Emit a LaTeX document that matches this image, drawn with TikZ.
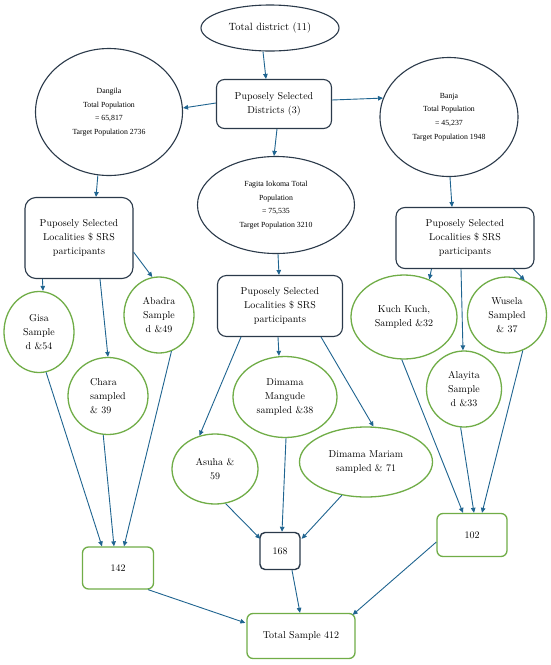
\documentclass[tikz,border=0pt]{standalone}
\usepackage{fontspec}
\newfontfamily\popfont{Liberation Serif}
\usetikzlibrary{shapes.geometric,arrows.meta,calc}
\definecolor{darkb}{HTML}{2B3A4A}
\definecolor{arrc}{HTML}{1F6490}
\definecolor{grn}{HTML}{70AD47}
\tikzset{
  darkell/.style={ellipse,draw=darkb,line width=1.1pt,inner sep=0pt,align=center},
  popell/.style={darkell,font=\popfont\fontsize{7.8}{13.7}\selectfont},
  darkbox/.style={rectangle,rounded corners=9pt,draw=darkb,line width=1.1pt,inner sep=0pt,align=center,font=\fontsize{10}{14}\selectfont},
  grnell/.style={ellipse,draw=grn,line width=1.3pt,inner sep=0pt,align=center,font=\fontsize{10}{14}\selectfont},
  grnbox/.style={rectangle,rounded corners=6pt,draw=grn,line width=1.3pt,inner sep=0pt,align=center,font=\fontsize{10}{14}\selectfont},
  arr/.style={draw=arrc,line width=0.9pt,-{Triangle[length=5pt,width=4.5pt]}}
}
\begin{document}
\begin{tikzpicture}[x=1pt,y=-1pt]
\useasboundingbox[fill=white] (0,0) rectangle (550,665);
% top
\node[darkell,minimum width=138,minimum height=46,font=\fontsize{10.5}{13}\selectfont] (TD) at (270,28) {Total district (11)};
\node[darkbox,minimum width=115,minimum height=49,rounded corners=8pt] (PD) at (274,104) {Puposely Selected\\Districts (3)};
\node[popell,minimum width=147,minimum height=127] (DG) at (109,112) {Dangila\\Total Population\\= 65,817\\Target Population 2736};
\node[popell,minimum width=138,minimum height=119] (BJ) at (449,117) {Banja\\Total Population\\= 45,237\\Target Population 1948};
\node[popell,minimum width=157,minimum height=97] (FG) at (276,205) {Fagita Iokoma Total\\Population\\= 75,535\\Target Population 3210};
% locality boxes
\node[darkbox,minimum width=108,minimum height=81,rounded corners=11pt] (L1) at (79,238) {Puposely Selected\\Localities \$ SRS\\participants};
\node[darkbox,minimum width=125,minimum height=61] (L2) at (280,306) {Puposely Selected\\Localities \$ SRS\\participants};
\node[darkbox,minimum width=138,minimum height=61] (L3) at (465,238) {Puposely Selected\\Localities \$ SRS\\participants};
% green ellipses
\node[grnell,minimum width=70,minimum height=81] (Gisa) at (39,332) {Gisa\\Sample\\d \&54};
\node[grnell,minimum width=70,minimum height=76] (Abadra) at (159,315) {Abadra\\Sample\\d \&49};
\node[grnell,minimum width=80,minimum height=77,align=left] (Chara) at (108,396) {Chara\\sampled\\\& 39};
\node[grnell,minimum width=106,minimum height=84] (Kuch) at (404,317) {Kuch Kuch,\\Sampled \&32};
\node[grnell,minimum width=79,minimum height=76] (Wusela) at (507,315) {Wusela\\Sampled\\\& 37};
\node[grnell,minimum width=75,minimum height=76] (Alayita) at (464,389) {Alayita\\Sample\\d \&33};
\node[grnell,minimum width=104,minimum height=81] (Mangude) at (285,397) {Dimama\\Mangude\\sampled \&38};
\node[grnell,minimum width=86,minimum height=70] (Asuha) at (215,469) {Asuha \&\\59};
\node[grnell,minimum width=133,minimum height=70] (Mariam) at (366,462) {Dimama Mariam\\sampled \& 71};
% totals
\node[grnbox,minimum width=71,minimum height=42] (B142) at (118,568) {142};
\node[darkbox,minimum width=40,minimum height=37,rounded corners=5pt,line width=1.4pt] (B168) at (280,551) {168};
\node[grnbox,minimum width=70,minimum height=43] (B102) at (472,535) {102};
\node[grnbox,minimum width=108,minimum height=45] (Total) at (301,636) {Total Sample 412};
% arrows
\draw[arr] ($(TD.south)+(-7,0)$) -- ($(PD.north)+(-8,0)$);
\draw[arr] ($(PD.west)+(0,-1)$) -- ($(DG.east)+(0,-4)$);
\draw[arr] ($(PD.east)+(0,-4)$) -- (BJ.164);
\draw[arr] ($(PD.south)+(3,0)$) -- ($(FG.north)+(-2,0)$);
\draw[arr] (DG.260) -- ($(L1.north)+(17,0)$);
\draw[arr] ($(BJ.south)+(1,0)$) -- ($(L3.north)+(-13,0)$);
\draw[arr] ($(FG.south)+(2,0)$) -- ($(L2.north)+(-1,0)$);
\draw[arr] ($(L1.south west)+(18,0)$) -- ($(Gisa.north)+(4,0)$);
\draw[arr] ($(L1.south)+(21,0)$) -- (Chara.north);
\draw[arr] ($(L1.south east)+(0,-27)$) -- (Abadra.100);
\draw[arr] ($(L2.south)+(-2,0)$) -- ($(Mangude.north)+(-6,0)$);
\draw[arr] ($(L2.south west)+(24,0)$) -- (Asuha.115);
\draw[arr] ($(L2.south east)+(-22,0)$) -- (Mariam.78);
\draw[arr] ($(L3.south west)+(36,0)$) -- (Kuch.56);
\draw[arr] ($(L3.south)+(-4,0)$) -- ($(Alayita.north)+(-1,0)$);
\draw[arr] ($(L3.south east)+(-21,0)$) -- (Wusela.63);
\draw[arr] (Gisa.280) -- ($(B142.north)+(-16,0)$);
\draw[arr] (Chara.263) -- ($(B142.north)+(-4,0)$);
\draw[arr] (Abadra.289) -- ($(B142.north)+(6,0)$);
\draw[arr] (Asuha.287) -- ($(B168.north west)+(1,7)$);
\draw[arr] ($(Mangude.south)+(1,0)$) -- ($(B168.north)+(2,0)$);
\draw[arr] (Mariam.234) -- ($(B168.north east)+(1,7)$);
\draw[arr] (Kuch.267) -- ($(B102.north)+(-9,0)$);
\draw[arr] (Alayita.265) -- ($(B102.north)+(2,0)$);
\draw[arr] (Wusela.294) -- ($(B102.north)+(10,0)$);
\draw[arr] ($(B142.south east)+(-6,0)$) -- ($(Total.north west)+(-1,10)$);
\draw[arr] ($(B168.south)+(12,0)$) -- ($(Total.north)+(-1,0)$);
\draw[arr] ($(B102.west)+(0,7)$) -- ($(Total.north east)+(-3,2)$);
\end{tikzpicture}
\end{document}
